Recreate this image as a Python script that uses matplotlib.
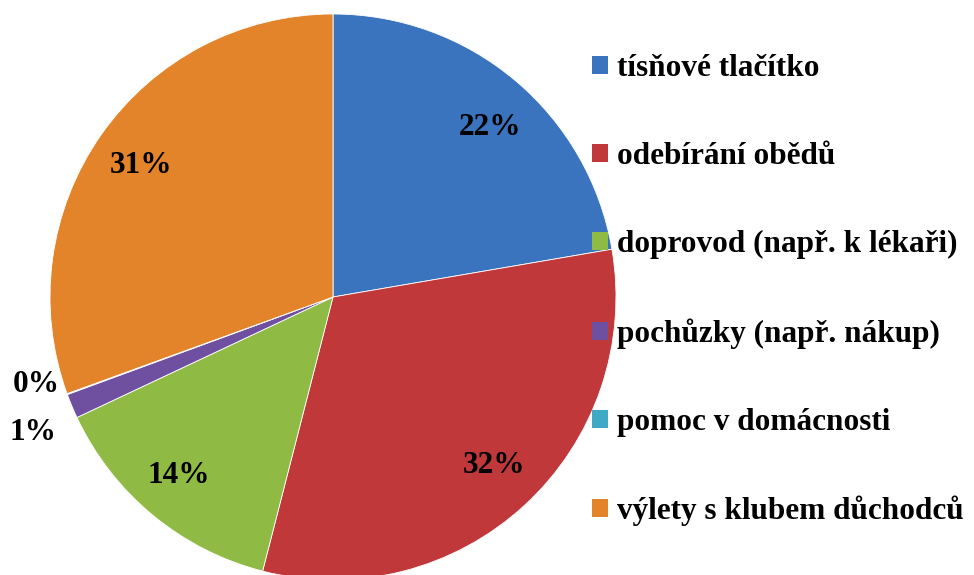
import matplotlib.pyplot as plt
from matplotlib.patches import Patch

categories = ['tísňové tlačítko', 'odebírání obědů', 'doprovod (např. k lékaři)',
              'pochůzky (např. nákup)', 'pomoc v domácnosti', 'výlety s klubem důchodců']
values = [22.3, 31.7, 14.0, 1.4, 0.05, 30.55]
labels_pct = ['22%', '32%', '14%', '1%', '0%', '31%']
colors = ['#3A73BE', '#C0383A', '#8FBA44', '#6F50A0', '#3FA9C6', '#E3832A']

plt.rcParams['font.family'] = ['Liberation Serif', 'DejaVu Serif']
plt.rcParams['font.weight'] = 'bold'

fig = plt.figure(figsize=(9.74, 5.75), dpi=100)
# pie centre ~ (333, 297) px, radius ~ 283 px
ax = fig.add_axes([(333 - 283) / 974, (575 - 297 - 283) / 575, 566 / 974, 566 / 575])

wedges, texts = ax.pie(values, colors=colors, startangle=90, counterclock=False,
                       radius=1.0, wedgeprops=dict(edgecolor='white', linewidth=0.6))
ax.set_xlim(-1, 1)
ax.set_ylim(-1, 1)
ax.set_aspect('equal')
ax.axis('off')

# label positions (data units), inside ones at ~0.83 of radius
label_pos = {'22%': (0.555, 0.6), '32%': (0.57, -0.595), '14%': (-0.545, -0.63),
             '31%': (-0.68, 0.465), '1%': (-1.06, -0.48), '0%': (-1.05, -0.31)}
for lab in labels_pct:
    x, y = label_pos[lab]
    ax.text(x, y, lab, ha='center', va='center', fontsize=22.5, fontweight='bold')

handles = [Patch(facecolor=c, edgecolor='none') for c in colors]
fig.legend(handles, categories, loc='upper left', bbox_to_anchor=(592 / 974, 1 - 54 / 575),
           frameon=False, labelspacing=1.89, handlelength=0.5, handleheight=0.5,
           handletextpad=0.3, borderaxespad=0, borderpad=0,
           prop={'family': ['Liberation Serif'], 'weight': 'bold', 'size': 22.5})

fig.savefig('out.png', dpi=100)
